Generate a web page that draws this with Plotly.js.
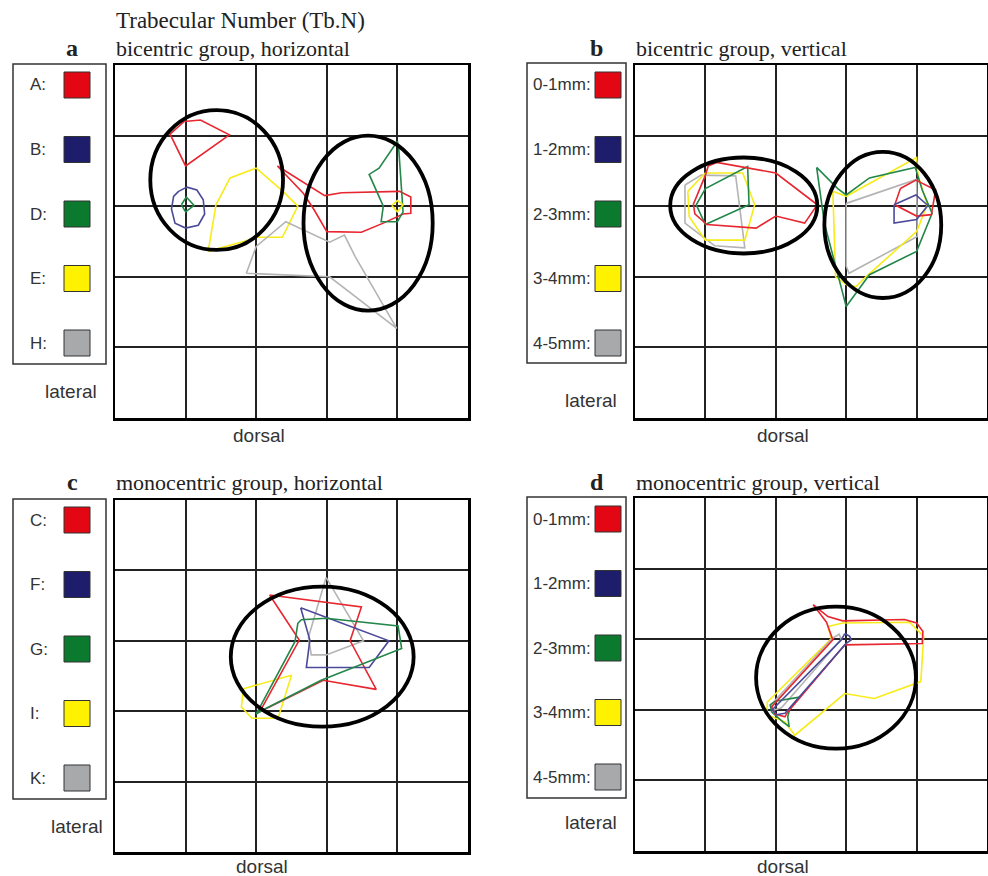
<!DOCTYPE html>
<html><head><meta charset="utf-8">
<script src="https://cdn.plot.ly/plotly-3.0.1.min.js"></script>
<style>html,body{margin:0;padding:0;background:#fff}#chart{width:988px;height:876px}</style>
</head><body><div id="chart"></div>
<script>
// ---- DATA (grid units: x = columns from left, y = rows from top) ----
// Panel a: bicentric group, horizontal
const aLabels = ['A:', 'B:', 'D:', 'E:', 'H:'];
const aRed1X = [0.98, 1.21, 1.62, 1.00, 0.78, 0.98];
const aRed1Y = [0.80, 0.78, 0.99, 1.43, 0.98, 0.80];
const aRed2X = [2.30, 2.97, 3.21, 4.03, 4.19, 4.19, 4.08, 3.80, 3.49, 3.00, 2.82, 2.76, 2.67, 2.30];
const aRed2Y = [1.43, 1.85, 1.81, 1.79, 1.87, 2.10, 2.11, 2.24, 2.37, 2.36, 2.05, 1.96, 1.82, 1.43];
const aBlueX = [0.90, 1.02, 1.16, 1.25, 1.27, 1.18, 1.00, 0.85, 0.80, 0.83, 0.90];
const aBlueY = [1.79, 1.73, 1.77, 1.91, 2.11, 2.27, 2.31, 2.24, 2.04, 1.86, 1.79];
const aGreen1X = [0.94, 1.01, 1.12, 1.00, 0.94];
const aGreen1Y = [1.98, 1.87, 1.99, 2.08, 1.98];
const aGreen2X = [4.00, 4.02, 4.08, 4.00, 3.77, 3.80, 3.60, 3.74, 4.00];
const aGreen2Y = [1.08, 1.20, 2.08, 2.22, 2.22, 2.00, 1.55, 1.46, 1.08];
const aYellow1X = [1.32, 1.43, 1.63, 2.00, 2.38, 2.59, 2.37, 2.00, 1.82, 1.53, 1.32];
const aYellow1Y = [2.64, 1.98, 1.60, 1.46, 1.79, 2.00, 2.44, 2.44, 2.50, 2.58, 2.64];
const aYellow2X = [3.92, 4.00, 4.08, 4.00, 3.92];
const aYellow2Y = [1.99, 1.92, 1.98, 2.08, 1.99];
const aGrayX = [1.86, 2.00, 2.42, 3.04, 3.25, 3.40, 3.99, 3.04, 1.86];
const aGrayY = [2.95, 2.57, 2.22, 2.51, 2.41, 2.71, 3.73, 3.00, 2.95];
const aEllX0 = [0.50, 2.67], aEllX1 = [2.38, 4.50], aEllY0 = [0.64, 1.00], aEllY1 = [2.62, 3.48];

// Panel b: bicentric group, vertical
const bLabels = ['0-1mm:', '1-2mm:', '2-3mm:', '3-4mm:', '4-5mm:'];
const bRed1X = [1.04, 1.16, 2.00, 2.59, 2.41, 2.00, 1.72, 1.02, 0.85, 0.83, 1.00, 1.04];
const bRed1Y = [1.43, 1.38, 1.53, 1.98, 2.24, 2.14, 2.31, 2.26, 2.11, 1.97, 1.56, 1.43];
const bRed2X = [3.77, 3.99, 4.27, 4.21, 4.00, 3.69, 3.77];
const bRed2Y = [1.75, 1.63, 1.77, 2.12, 2.14, 1.98, 1.75];
const bBlueX = [3.68, 3.99, 4.16, 4.00, 3.68, 3.68];
const bBlueY = [1.98, 1.84, 1.99, 2.19, 2.24, 1.98];
const bGreen1X = [1.00, 0.87, 1.00, 1.60, 1.62, 1.00];
const bGreen1Y = [2.26, 1.98, 1.75, 1.44, 1.98, 2.26];
const bGreen2X = [2.58, 2.88, 3.00, 3.33, 3.98, 4.08, 4.22, 4.00, 3.33, 3.14, 3.00, 2.90, 2.69, 2.58];
const bGreen2Y = [1.45, 1.75, 1.84, 1.60, 1.45, 1.77, 2.10, 2.64, 2.97, 3.23, 3.42, 3.04, 2.24, 1.45];
const bYellow1X = [0.75, 1.00, 1.53, 1.70, 1.56, 1.00, 0.77, 0.75];
const bYellow1Y = [1.79, 1.53, 1.53, 1.98, 2.48, 2.48, 2.15, 1.79];
const bYellow2X = [2.81, 3.00, 4.00, 4.02, 4.15, 4.00, 3.28, 3.14, 3.00, 2.85, 2.81];
const bYellow2Y = [1.79, 1.86, 1.31, 1.56, 1.98, 2.36, 3.00, 3.14, 3.11, 3.00, 1.79];
const bGray1X = [0.71, 0.94, 1.43, 1.56, 1.13, 0.71, 0.71];
const bGray1Y = [1.70, 1.56, 1.57, 2.59, 2.56, 2.24, 1.70];
const bGray2X = [3.00, 4.00, 4.01, 3.04, 3.00, 3.00];
const bGray2Y = [1.96, 1.62, 2.43, 2.95, 2.85, 1.96];
const bEllX0 = [0.50, 2.69], bEllX1 = [2.59, 4.35], bEllY0 = [1.31, 1.23], bEllY1 = [2.67, 3.30];

// Panel c: monocentric group, horizontal
const cLabels = ['C:', 'F:', 'G:', 'I:', 'K:'];
const cRedX = [2.19, 3.49, 3.33, 3.70, 2.95, 2.05, 2.61, 2.19];
const cRedY = [1.35, 1.52, 2.00, 2.69, 2.56, 3.01, 1.99, 1.35];
const cBlueX = [2.63, 3.88, 3.60, 2.71, 2.76, 2.63];
const cBlueY = [1.53, 2.00, 2.38, 2.38, 1.99, 1.53];
const cGreenX = [2.59, 2.64, 2.99, 4.01, 4.06, 2.92, 2.08, 2.00, 2.55, 2.59];
const cGreenY = [1.75, 1.70, 1.68, 1.79, 2.11, 2.56, 2.99, 3.04, 2.01, 1.75];
const cYellowX = [1.82, 2.50, 2.31, 1.94, 1.79, 1.82];
const cYellowY = [2.68, 2.49, 3.10, 3.10, 2.94, 2.68];
const cGrayX = [2.99, 3.52, 2.99, 2.78, 2.74, 2.99];
const cGrayY = [1.10, 2.00, 2.20, 2.20, 1.95, 1.10];
const cEllX0 = [1.64], cEllX1 = [4.23], cEllY0 = [1.23], cEllY1 = [3.22];

// Panel d: monocentric group, vertical
const dLabels = ['0-1mm:', '1-2mm:', '2-3mm:', '3-4mm:', '4-5mm:'];
const dRedX = [2.53, 2.74, 2.95, 3.83, 4.00, 4.09, 4.08, 2.98, 2.17, 2.13, 1.99, 1.94, 2.81, 2.72, 2.53];
const dRedY = [1.51, 1.68, 1.74, 1.72, 1.77, 1.89, 2.06, 2.08, 3.03, 3.10, 3.06, 2.96, 2.01, 1.76, 1.51];
const dBlueX = [2.98, 3.05, 3.07, 3.00, 2.13, 2.01, 1.95, 1.99, 2.93, 2.98];
const dBlueY = [1.92, 1.96, 2.01, 2.06, 3.05, 3.07, 3.00, 2.96, 2.01, 1.92];
const dGreenX = [1.99, 2.34, 2.20, 2.17, 2.19, 2.10, 1.94, 1.92, 1.99];
const dGreenY = [2.88, 2.82, 2.98, 3.10, 3.24, 3.17, 3.03, 2.93, 2.88];
const dYellowX = [2.74, 2.95, 3.90, 4.10, 4.06, 3.40, 2.98, 2.27, 2.13, 1.87, 1.88, 2.79, 2.74];
const dYellowY = [1.82, 1.77, 1.76, 1.96, 2.60, 2.84, 2.77, 3.36, 3.17, 3.07, 2.89, 1.99, 1.82];
const dGrayX = [2.80, 2.90, 2.93, 2.08, 1.95, 1.93, 2.80];
const dGrayY = [1.99, 1.93, 2.00, 2.97, 3.01, 2.93, 1.99];
const dEllX0 = [1.72], dEllX1 = [3.99], dEllY0 = [1.54], dEllY1 = [3.55];

// ---- STYLE ----
const LINE = {red: '#e8262f', blue: '#4b4a99', green: '#23874a', yellow: '#f7ec1a', gray: '#b4b4b4'};
const SWATCH = ['#e30613', '#1d1d6b', '#0b7a2e', '#fff200', '#a7a9ab'];
const W = 988, H = 876;
const fx = px => px / W, fy = py => 1 - py / H;

const panels = [
  {key: '', box: [115, 468, 65, 418], polys: [
    [aRed1X, aRed1Y, 'red'], [aRed2X, aRed2Y, 'red'], [aBlueX, aBlueY, 'blue'],
    [aGreen1X, aGreen1Y, 'green'], [aGreen2X, aGreen2Y, 'green'],
    [aYellow1X, aYellow1Y, 'yellow'], [aYellow2X, aYellow2Y, 'yellow'], [aGrayX, aGrayY, 'gray']],
    ell: [aEllX0, aEllX1, aEllY0, aEllY1], labels: aLabels,
    leg: [13, 106, 64, 364], swX: 64, swY0: 72, labX: 28,
    letter: 'a', letterX: 72, subtitle: 'bicentric group, horizontal', titleY: 48,
    dorsal: [259, 435], lateral: [71, 391]},
  {key: '2', box: [635, 987, 65, 418], polys: [
    [bGray1X, bGray1Y, 'gray'], [bGray2X, bGray2Y, 'gray'], [bYellow1X, bYellow1Y, 'yellow'], [bYellow2X, bYellow2Y, 'yellow'],
    [bGreen1X, bGreen1Y, 'green'], [bGreen2X, bGreen2Y, 'green'], [bRed1X, bRed1Y, 'red'], [bRed2X, bRed2Y, 'red'],
    [bBlueX, bBlueY, 'blue']],
    ell: [bEllX0, bEllX1, bEllY0, bEllY1], labels: bLabels,
    leg: [527, 626, 63, 363], swX: 595, swY0: 72, labX: 531,
    letter: 'b', letterX: 596, subtitle: 'bicentric group, vertical', titleY: 48,
    dorsal: [783, 435], lateral: [591, 400]},
  {key: '3', box: [115, 468, 500, 852], polys: [
    [cGrayX, cGrayY, 'gray'], [cYellowX, cYellowY, 'yellow'], [cRedX, cRedY, 'red'],
    [cBlueX, cBlueY, 'blue'], [cGreenX, cGreenY, 'green']],
    ell: [cEllX0, cEllX1, cEllY0, cEllY1], labels: cLabels,
    leg: [13, 106, 499, 799], swX: 64, swY0: 507, labX: 28,
    letter: 'c', letterX: 72, subtitle: 'monocentric group, horizontal', titleY: 482,
    dorsal: [262, 866], lateral: [77, 826]},
  {key: '4', box: [635, 987, 498, 851], polys: [
    [dYellowX, dYellowY, 'yellow'], [dGrayX, dGrayY, 'gray'], [dGreenX, dGreenY, 'green'],
    [dRedX, dRedY, 'red'], [dBlueX, dBlueY, 'blue']],
    ell: [dEllX0, dEllX1, dEllY0, dEllY1], labels: dLabels,
    leg: [527, 626, 497, 798], swX: 595, swY0: 506, labX: 531,
    letter: 'd', letterX: 597, subtitle: 'monocentric group, vertical', titleY: 482,
    dorsal: [783, 866], lateral: [591, 822]}
];

const traces = [], shapes = [], annotations = [];
const layout = {
  width: W, height: H, margin: {l: 0, r: 0, t: 0, b: 0},
  paper_bgcolor: '#fff', plot_bgcolor: '#fff', showlegend: false, hovermode: false
};
const sans = 'Liberation Sans, Arial, sans-serif';
const serif = 'Liberation Serif, Times New Roman, serif';

annotations.push({xref: 'paper', yref: 'paper', x: fx(114), y: fy(21), xanchor: 'left', yanchor: 'middle',
  text: 'Trabecular Number (Tb.N)', showarrow: false, font: {family: serif, size: 23, color: '#222'}});

panels.forEach(p => {
  const xa = 'xaxis' + p.key, ya = 'yaxis' + p.key;
  const xr = 'x' + p.key, yr = 'y' + p.key;
  const common = {showgrid: true, gridcolor: '#222', gridwidth: 2, dtick: 1, tick0: 0,
    zeroline: false, showticklabels: false, ticks: '', showline: true, mirror: true,
    linecolor: '#000', linewidth: 2.5, fixedrange: true};
  layout[xa] = Object.assign({}, common, {domain: [fx(p.box[0]), fx(p.box[1])], range: [0, 5], anchor: yr});
  layout[ya] = Object.assign({}, common, {domain: [fy(p.box[3]), fy(p.box[2])], range: [5, 0], anchor: xr});
  p.polys.forEach(([xs, ys, c]) => {
    traces.push({type: 'scatter', mode: 'lines', x: xs, y: ys, xaxis: xr, yaxis: yr,
      line: {color: LINE[c], width: 1.6}, hoverinfo: 'skip'});
  });
  const [ex0, ex1, ey0, ey1] = p.ell;
  ex0.forEach((v, i) => {
    shapes.push({type: 'circle', xref: xr, yref: yr, x0: ex0[i], x1: ex1[i], y0: ey0[i], y1: ey1[i],
      line: {color: '#000', width: 3.8}, layer: 'above'});
  });
  // legend box
  shapes.push({type: 'rect', xref: 'paper', yref: 'paper', x0: fx(p.leg[0]), x1: fx(p.leg[1]),
    y0: fy(p.leg[3]), y1: fy(p.leg[2]), line: {color: '#333', width: 1.5}});
  p.labels.forEach((lab, i) => {
    const top = p.swY0 + i * 64.5;
    shapes.push({type: 'rect', xref: 'paper', yref: 'paper', x0: fx(p.swX), x1: fx(p.swX + 26),
      y0: fy(top + 26), y1: fy(top), fillcolor: SWATCH[i], line: {color: '#333', width: 1}});
    annotations.push({xref: 'paper', yref: 'paper', x: fx(p.labX), y: fy(top + 13), xanchor: 'left', yanchor: 'middle',
      text: lab, showarrow: false, font: {family: sans, size: 17, color: '#333'}});
  });
  annotations.push({xref: 'paper', yref: 'paper', x: fx(p.letterX), y: fy(p.titleY), xanchor: 'center', yanchor: 'middle',
    text: '<b>' + p.letter + '</b>', showarrow: false, font: {family: serif, size: 24, color: '#222'}});
  annotations.push({xref: 'paper', yref: 'paper', x: fx(p.box[0] - 1), y: fy(p.titleY), xanchor: 'left', yanchor: 'middle',
    text: p.subtitle, showarrow: false, font: {family: serif, size: 22, color: '#222'}});
  annotations.push({xref: 'paper', yref: 'paper', x: fx(p.dorsal[0]), y: fy(p.dorsal[1]), xanchor: 'center', yanchor: 'middle',
    text: 'dorsal', showarrow: false, font: {family: sans, size: 19, color: '#333'}});
  annotations.push({xref: 'paper', yref: 'paper', x: fx(p.lateral[0]), y: fy(p.lateral[1]), xanchor: 'center', yanchor: 'middle',
    text: 'lateral', showarrow: false, font: {family: sans, size: 19, color: '#333'}});
});

layout.shapes = shapes;
layout.annotations = annotations;
Plotly.newPlot('chart', traces, layout, {staticPlot: true, displayModeBar: false});
</script>
</body></html>
